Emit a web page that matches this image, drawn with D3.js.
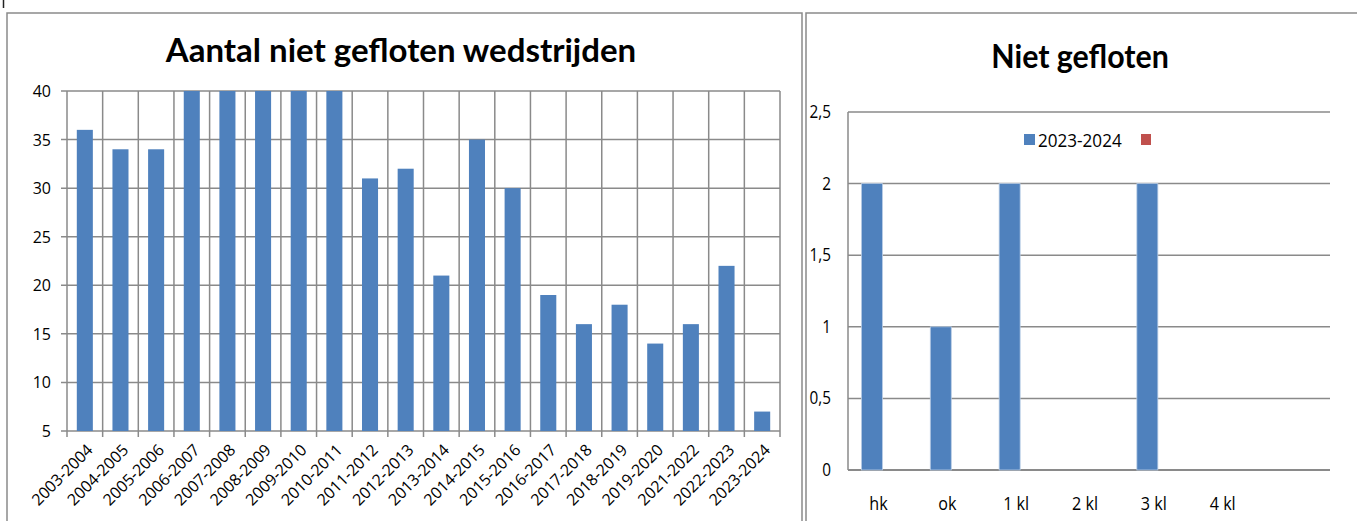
<!DOCTYPE html>
<html>
<head>
<meta charset="utf-8">
<script src="https://cdn.jsdelivr.net/npm/d3@7"></script>
<style>
  body { margin: 0; background: #fff; }
  svg { display: block; font-family: "Open Sans", Lato, sans-serif; fill: #000; }
</style>
</head>
<body>
<div id="chart"></div>
<script>
// left chart data
var seasons = ['2003-2004', '2004-2005', '2005-2006', '2006-2007', '2007-2008', '2008-2009',
    '2009-2010', '2010-2011', '2011-2012', '2012-2013', '2013-2014', '2014-2015', '2015-2016',
    '2016-2017', '2017-2018', '2018-2019', '2019-2020', '2021-2022', '2022-2023', '2023-2024']
var nietGefloten = [36, 34, 34, 40, 40, 40, 40, 40, 31, 32, 21, 35, 30, 19, 16, 18, 14, 16, 22, 7]
var leftTicks = [5, 10, 15, 20, 25, 30, 35, 40]

// right chart data
var klassen = ['hk', 'ok', '1 kl', '2 kl', '3 kl', '4 kl', '']
var seriesNames = ['2023-2024', '']
var serie2324 = [2, 1, 2, null, 2, null, null]
var serieLeeg = [null, null, null, null, null, null, null]
var rightTicks = [0, 0.5, 1, 1.5, 2, 2.5]

var blue = '#4f81bd', red = '#c0504d', grid = '#8a8a8a'

var svg = d3.select('#chart').append('svg')
    .attr('width', 1357)
    .attr('height', 521)

// stray mark top-left
svg.append('line').attr('x1', 3.5).attr('x2', 3.5).attr('y1', 0).attr('y2', 8)
    .attr('stroke', '#222').attr('stroke-width', 1.5)

// panel borders
svg.append('rect').attr('x', 7).attr('y', 13).attr('width', 795).attr('height', 600)
    .attr('fill', 'none').attr('stroke', grid).attr('stroke-width', 1.5)
svg.append('rect').attr('x', 806).attr('y', 13).attr('width', 600).attr('height', 600)
    .attr('fill', 'none').attr('stroke', grid).attr('stroke-width', 1.5)

// ---------- left chart ----------
var x = d3.scaleBand().domain(seasons).range([67, 780]).padding(0)
var y = d3.scaleLinear().domain([5, 40]).range([431, 91]).clamp(true)

var left = svg.append('g')

left.append('text')
    .attr('x', 401).attr('y', 62)
    .attr('text-anchor', 'middle')
    .attr('font-family', 'Lato, sans-serif')
    .attr('font-size', 33).attr('font-weight', 'bold')
    .text('Aantal niet gefloten wedstrijden')

// horizontal grid + y ticks
left.selectAll('.hgrid').data(leftTicks).enter().append('line')
    .attr('x1', 61).attr('x2', 780)
    .attr('y1', d => y(d)).attr('y2', d => y(d))
    .attr('stroke', grid).attr('stroke-width', 1.5)

// vertical grid at category boundaries
var bounds = seasons.map(d => x(d)).concat([x.range()[1]])
left.selectAll('.vgrid').data(bounds).enter().append('line')
    .attr('x1', d => d).attr('x2', d => d)
    .attr('y1', y(40)).attr('y2', 437)
    .attr('stroke', grid).attr('stroke-width', 1.5)

left.selectAll('.ylab').data(leftTicks).enter().append('text')
    .attr('x', 51).attr('y', d => y(d) + 6)
    .attr('text-anchor', 'end')
    .attr('font-size', 16)
    .text(d => d)

var bw = x.bandwidth() * 0.45
left.selectAll('.bar').data(nietGefloten).enter().append('rect')
    .attr('x', (d, i) => x(seasons[i]) + x.bandwidth() / 2 - bw / 2)
    .attr('y', d => y(d))
    .attr('width', bw)
    .attr('height', d => y(5) - y(d))
    .attr('fill', blue)

left.selectAll('.xlab').data(seasons).enter().append('text')
    .attr('transform', d => 'translate(' + (x(d) + x.bandwidth() / 2 + 9) + ',451) rotate(-45)')
    .attr('text-anchor', 'end')
    .attr('font-size', 16)
    .text(d => d)

// ---------- right chart ----------
var x2 = d3.scaleBand().domain(klassen).range([848, 1330]).padding(0)
var xs = d3.scaleBand().domain([0, 1]).range([-21, 21])
var y2 = d3.scaleLinear().domain([0, 2.5]).range([470, 112])

var right = svg.append('g')

function narrow(sel, sx) {
    return sel.attr('transform', function () {
        var t = d3.select(this)
        return 'translate(' + t.attr('data-x') + ',' + t.attr('data-y') + ') scale(' + sx + ',1)'
    })
}

narrow(right.append('text')
    .attr('data-x', 1080).attr('data-y', 68)
    .attr('text-anchor', 'middle')
    .attr('font-family', 'Lato, sans-serif')
    .attr('font-size', 33).attr('font-weight', 'bold')
    .text('Niet gefloten'), 0.92)

right.selectAll('.hgrid').data(rightTicks).enter().append('line')
    .attr('x1', 848).attr('x2', 1330)
    .attr('y1', d => y2(d)).attr('y2', d => y2(d))
    .attr('stroke', grid).attr('stroke-width', d => d === 0 ? 2 : 1.5)

right.append('line')
    .attr('x1', 848).attr('x2', 848).attr('y1', y2(2.5)).attr('y2', y2(0))
    .attr('stroke', grid).attr('stroke-width', 1.5)

narrow(right.selectAll('.ylab').data(rightTicks).enter().append('text')
    .attr('data-x', 831).attr('data-y', d => y2(d) + 6)
    .attr('text-anchor', 'end')
    .attr('font-size', 18)
    .text(d => String(d).replace('.', ',')), 0.85)

var series = [serie2324, serieLeeg]
var colors = [blue, red]
series.forEach(function (vals, s) {
    var pts = vals.map((v, i) => ({ klas: klassen[i], v: v })).filter(p => p.v != null && p.v > 0)
    right.selectAll('.bar' + s).data(pts).enter()
        .append('rect')
        .attr('x', p => x2(p.klas) + x2.bandwidth() / 2 + xs(s))
        .attr('y', p => y2(p.v))
        .attr('width', xs.bandwidth())
        .attr('height', p => y2(0) - y2(p.v))
        .attr('fill', colors[s])
        .attr('stroke', '#b9cde5').attr('stroke-width', 0.8)
})

narrow(right.selectAll('.xlab').data(klassen).enter().append('text')
    .attr('data-x', d => x2(d) + x2.bandwidth() / 2 - 4).attr('data-y', 510)
    .attr('text-anchor', 'middle')
    .attr('font-size', 19)
    .text(d => d), 0.85)

// legend
var leg = right.append('g')
leg.append('rect').attr('x', 1024).attr('y', 134).attr('width', 11).attr('height', 11).attr('fill', blue)
narrow(leg.append('text').attr('data-x', 1038).attr('data-y', 147)
    .attr('font-size', 18).text(seriesNames[0]), 0.95)
leg.append('rect').attr('x', 1141).attr('y', 134).attr('width', 10).attr('height', 11).attr('fill', red)
</script>
</body>
</html>
